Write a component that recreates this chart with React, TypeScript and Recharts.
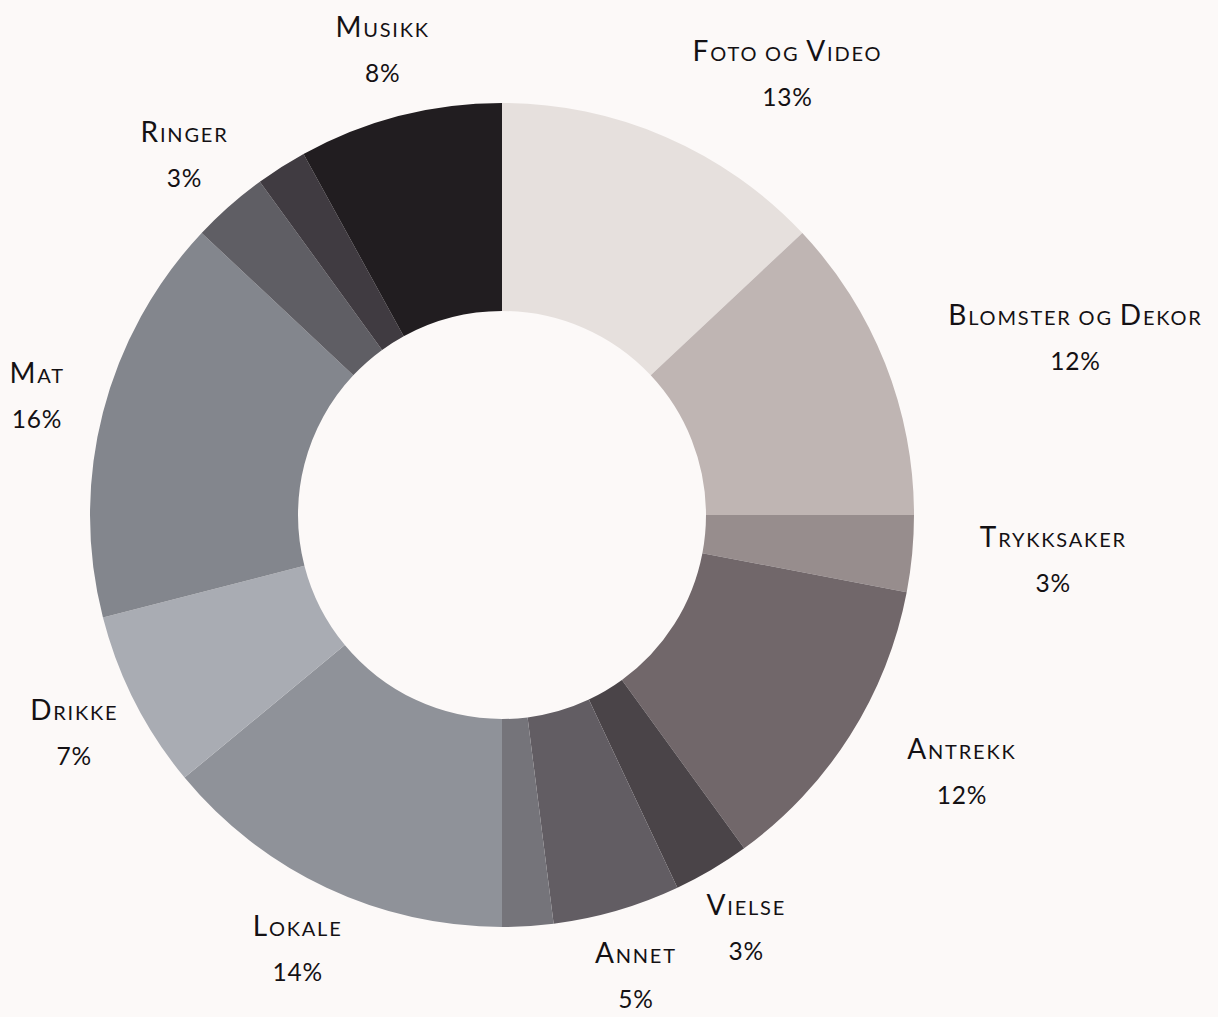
import React from 'react';
import { PieChart, Pie, Cell } from 'recharts';

const categories = [
  'Foto og Video',
  'Blomster og Dekor',
  'Trykksaker',
  'Antrekk',
  'Vielse',
  'Annet',
  '',
  'Lokale',
  'Drikke',
  'Mat',
  'Ringer',
  '',
  'Musikk',
];
const values = [13, 12, 3, 12, 3, 5, 2, 14, 7, 16, 3, 2, 8];
const colors = [
  '#e6e0dd',
  '#bfb5b3',
  '#978d8d',
  '#71676a',
  '#4a4448',
  '#625d63',
  '#75747a',
  '#8f9299',
  '#a9acb3',
  '#83868d',
  '#5f5e64',
  '#403b41',
  '#211d20',
];

const data = categories.map((name, i) => ({ name, value: values[i] }));

const FONT_FAMILY = 'Lato, "Open Sans", sans-serif';
const CAP_SIZE = 28;
const SMALL_SIZE = 20;
const NAME_SPACING = 1.8;
const PCT_SIZE = 24.5;
const TEXT_COLOR = '#141114';
const BG = '#fcf9f8';

type Run = { text: string; small: boolean };

function splitRuns(text: string): Run[] {
  const runs: Run[] = [];
  for (const ch of text) {
    const lower = ch !== ch.toUpperCase();
    const isSmall = ch === ' ' ? (runs.length ? runs[runs.length - 1].small : false) : lower;
    const last = runs[runs.length - 1];
    if (last && last.small === isSmall) last.text += ch;
    else runs.push({ text: ch, small: isSmall });
  }
  return runs;
}

function measureName(text: string): number {
  try {
    const ctx = document.createElement('canvas').getContext('2d') as any;
    let w = 0;
    for (const run of splitRuns(text)) {
      ctx.font = `${run.small ? SMALL_SIZE : CAP_SIZE}px Lato`;
      w += ctx.measureText(run.text.toUpperCase()).width;
    }
    return w + NAME_SPACING * text.length;
  } catch (e) {
    return text.length * CAP_SIZE * 0.6;
  }
}

const RADIAN = Math.PI / 180;

const renderLabel = (props: any) => {
  const { cx, cy, midAngle, outerRadius, name, percent } = props;
  if (!name) return null;
  const r = outerRadius + 68;
  const x = cx + r * Math.cos(-midAngle * RADIAN);
  const y = cy + r * Math.sin(-midAngle * RADIAN);
  // clockwise angle from 12 o'clock
  const cw = ((90 - midAngle) % 360 + 360) % 360;
  let centerX = x;
  if (cw < 135) {
    centerX = x + measureName(name) / 2;
  }
  const pct = `${Math.round(percent * 100)}%`;
  return (
    <g>
      <text
        x={centerX}
        y={y - 13}
        textAnchor="middle"
        fill={TEXT_COLOR}
        style={{ fontFamily: FONT_FAMILY, fontSize: CAP_SIZE, letterSpacing: NAME_SPACING }}
      >
        {splitRuns(name).map((run, i) => (
          <tspan key={i} style={{ fontSize: run.small ? SMALL_SIZE : CAP_SIZE }}>
            {run.text.toUpperCase()}
          </tspan>
        ))}
      </text>
      <text
        x={centerX}
        y={y + 32}
        textAnchor="middle"
        fill={TEXT_COLOR}
        style={{ fontFamily: FONT_FAMILY, fontSize: PCT_SIZE, letterSpacing: 0.8 }}
      >
        {pct}
      </text>
    </g>
  );
};

export default function App() {
  return (
    <div
      style={{
        position: 'absolute',
        left: 0,
        top: 0,
        width: 1218,
        height: 1017,
        background: BG,
      }}
    >
      <PieChart width={1218} height={1017} margin={{ top: 0, right: 0, bottom: 0, left: 0 }}>
        <Pie
          data={data}
          dataKey="value"
          nameKey="name"
          cx={502}
          cy={515}
          innerRadius={204}
          outerRadius={412}
          startAngle={90}
          endAngle={-270}
          stroke="none"
          label={renderLabel}
          labelLine={false}
          isAnimationActive={false}
        >
          {data.map((d, i) => (
            <Cell key={i} fill={colors[i]} stroke="none" />
          ))}
        </Pie>
      </PieChart>
    </div>
  );
}
